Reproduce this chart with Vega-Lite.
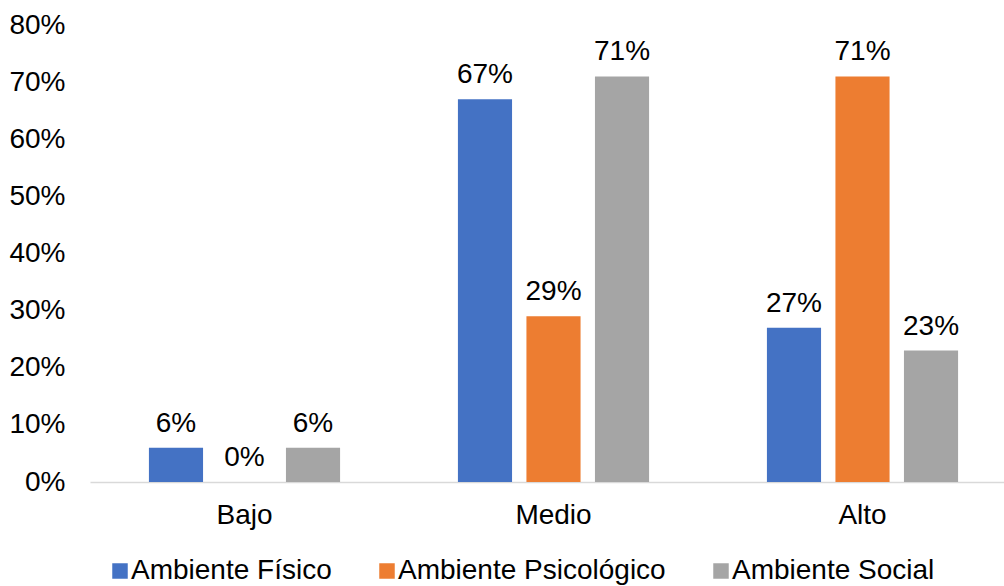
{
  "$schema": "https://vega.github.io/schema/vega-lite/v6.json",
  "autosize": {"type": "none"},
  "padding": {"left": 90, "top": 25, "right": 0, "bottom": 104},
  "width": 914,
  "height": 457,
  "background": "white",
  "config": {
    "font": "Liberation Sans",
    "view": {"stroke": null}
  },
  "data": {
    "values": [
      {"nivel": "Bajo", "serie": "Ambiente Físico", "valor": 0.06},
      {"nivel": "Bajo", "serie": "Ambiente Psicológico", "valor": 0.0},
      {"nivel": "Bajo", "serie": "Ambiente Social", "valor": 0.06},
      {"nivel": "Medio", "serie": "Ambiente Físico", "valor": 0.67},
      {"nivel": "Medio", "serie": "Ambiente Psicológico", "valor": 0.29},
      {"nivel": "Medio", "serie": "Ambiente Social", "valor": 0.71},
      {"nivel": "Alto", "serie": "Ambiente Físico", "valor": 0.27},
      {"nivel": "Alto", "serie": "Ambiente Psicológico", "valor": 0.71},
      {"nivel": "Alto", "serie": "Ambiente Social", "valor": 0.23}
    ]
  },
  "encoding": {
    "x": {
      "field": "nivel", "type": "nominal", "sort": ["Bajo", "Medio", "Alto"],
      "scale": {"range": [0, 927], "paddingInner": 0, "paddingOuter": 0},
      "axis": {
        "title": null, "labelAngle": 0, "ticks": false, "domainColor": "#D9D9D9", "domainWidth": 1.3,
        "labelFontSize": 28, "labelColor": "#000000", "labelPadding": 19
      }
    },
    "xOffset": {
      "field": "serie", "type": "nominal",
      "scale": {"paddingInner": 0.21, "paddingOuter": 0.86}
    },
    "y": {
      "field": "valor", "type": "quantitative",
      "scale": {"domain": [0, 0.8], "nice": false},
      "axis": {
        "title": null, "format": ".0%", "values": [0, 0.1, 0.2, 0.3, 0.4, 0.5, 0.6, 0.7, 0.8],
        "grid": false, "domain": false, "ticks": false, "labelFontSize": 28, "labelColor": "#000000", "labelPadding": 25
      }
    }
  },
  "layer": [
    {
      "mark": {"type": "bar"},
      "encoding": {
        "color": {
          "field": "serie", "type": "nominal",
          "scale": {"domain": ["Ambiente Físico", "Ambiente Psicológico", "Ambiente Social"], "range": ["#4472C4", "#ED7D31", "#A5A5A5"]},
          "legend": {
            "title": null, "orient": "none", "direction": "horizontal", "legendX": 16, "legendY": 532,
            "symbolType": "square", "symbolSize": 240, "symbolStrokeWidth": 0, "labelFontSize": 28, "labelColor": "#000000",
            "labelOffset": -3, "columnPadding": 41, "labelLimit": 400
          }
        }
      }
    },
    {
      "mark": {"type": "text", "baseline": "alphabetic", "dy": -16, "fontSize": 28, "color": "#000000"},
      "encoding": {
        "text": {"field": "valor", "type": "quantitative", "format": ".0%"}
      }
    }
  ]
}
